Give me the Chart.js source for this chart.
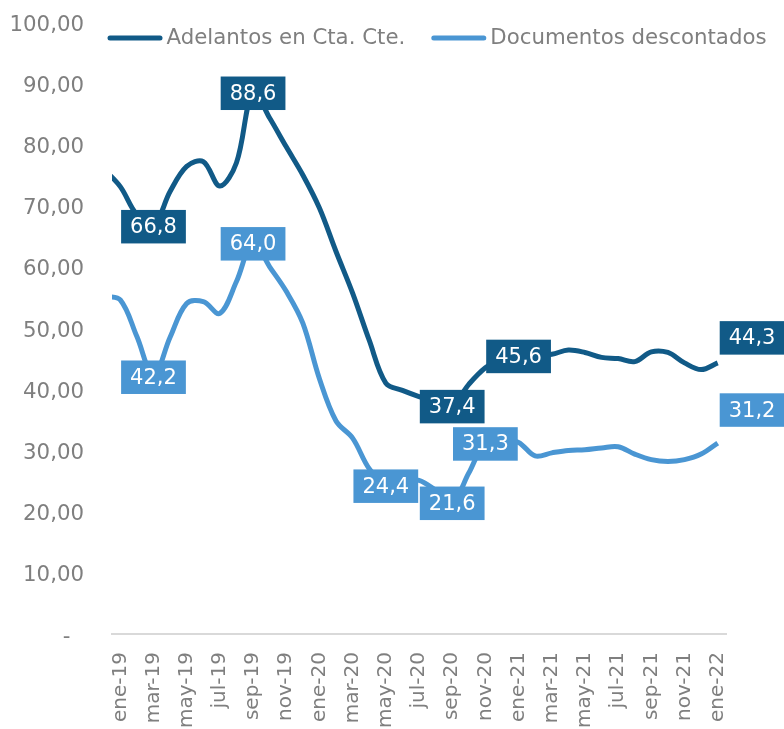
<!DOCTYPE html>
<html><head><meta charset="utf-8">
<script src="https://cdn.jsdelivr.net/npm/chart.js@4.4.0/dist/chart.umd.min.js"></script>
<style>html,body{margin:0;padding:0;background:#fff;}#wrap{width:784px;height:729px;}</style>
</head><body><div id="wrap"><canvas id="c" width="784" height="729"></canvas></div>
<script>
const months = ['dic-18','ene-19','feb-19','mar-19','abr-19','may-19','jun-19','jul-19','ago-19','sep-19','oct-19','nov-19','dic-19',
  'ene-20','feb-20','mar-20','abr-20','may-20','jun-20','jul-20','ago-20','sep-20','oct-20','nov-20','dic-20',
  'ene-21','feb-21','mar-21','abr-21','may-21','jun-21','jul-21','ago-21','sep-21','oct-21','nov-21','dic-21','ene-22'];
const tickLabels = ['ene-19','mar-19','may-19','jul-19','sep-19','nov-19','ene-20','mar-20','may-20','jul-20','sep-20','nov-20',
  'ene-21','mar-21','may-21','jul-21','sep-21','nov-21','ene-22'];
const adelantos = [76.0,73.1,68.5,66.8,72.3,76.4,77.2,73.2,77.0,88.6,84.3,79.6,75.0,69.6,62.5,55.7,48.0,41.0,39.8,38.8,38.0,37.4,40.8,43.5,45.0,45.6,45.5,45.7,46.4,46.0,45.2,45.0,44.5,46.1,46.0,44.3,43.2,44.3];
const documentos = [55.2,54.6,48.6,42.2,48.5,54.0,54.3,52.4,57.6,64.0,60.0,56.0,50.8,41.7,34.8,32.0,27.0,24.4,25.0,25.1,23.5,21.6,26.3,31.3,31.8,31.3,29.1,29.6,30.0,30.1,30.4,30.6,29.4,28.5,28.2,28.5,29.4,31.2];
const adelantosLabeled = ['mar-19','sep-19','sep-20','ene-21','ene-22'];
const documentosLabeled = ['mar-19','sep-19','may-20','sep-20','nov-20','ene-22'];
const seriesNames = ['Adelantos en Cta. Cte.','Documentos descontados'];
const colors = ['#115a87','#4a96d3'];

Chart.defaults.font.family = '"DejaVu Sans", Verdana, sans-serif';

const toPts = arr => arr.map((v,i)=>({x:i-1,y:v}));

const boxPlugin = {
  id:'boxLabels',
  afterDatasetsDraw(chart, args, opts){
    const ctx = chart.ctx;
    ctx.save();
    chart.data.datasets.forEach((ds,di)=>{
      const meta = chart.getDatasetMeta(di);
      ds.boxLabels.forEach(m=>{
        const idx = months.indexOf(m);
        const pt = meta.data[idx];
        const txt = ds.data[idx].y.toFixed(1).replace('.',',');
        ctx.font = '21px "DejaVu Sans"';
        const w = ctx.measureText(txt).width + 18, h = 33.5;
        let cx = pt.x, cy = pt.y + 1.5;
        if (idx === months.length-1){ cx = pt.x + 2 + w/2; cy = pt.y + opts.endDy[di]; }
        ctx.fillStyle = ds.borderColor;
        ctx.fillRect(cx-w/2, cy-h/2, w, h);
        ctx.fillStyle = '#ffffff';
        ctx.textAlign = 'center'; ctx.textBaseline = 'middle';
        ctx.fillText(txt, cx, cy+1);
      });
    });
    ctx.restore();
  }
};

const legendPlugin = {
  id:'customLegend',
  afterDraw(chart, args, opts){
    const ctx = chart.ctx;
    ctx.save();
    ctx.font = '21.3px "DejaVu Sans"';
    ctx.textBaseline = 'middle';
    ctx.textAlign = 'left';
    let x = opts.x;
    const y = opts.y;
    chart.data.datasets.forEach(ds=>{
      ctx.strokeStyle = ds.borderColor; ctx.lineWidth = 5; ctx.lineCap = 'round';
      ctx.beginPath(); ctx.moveTo(x+2.5, y); ctx.lineTo(x+52.5, y); ctx.stroke();
      ctx.fillStyle = '#7f7f7f';
      ctx.fillText(ds.label, x+59, y);
      x += 59 + ctx.measureText(ds.label).width + 26;
    });
    ctx.restore();
  }
};

new Chart(document.getElementById('c'), {
  type:'line',
  data:{datasets:[
    {label:seriesNames[0], data:toPts(adelantos), borderColor:colors[0], backgroundColor:colors[0], borderWidth:5, pointRadius:0, tension:0.35, boxLabels:adelantosLabeled, clip:{left:0,right:20,top:20,bottom:20}},
    {label:seriesNames[1], data:toPts(documentos), borderColor:colors[1], backgroundColor:colors[1], borderWidth:5, pointRadius:0, tension:0.35, boxLabels:documentosLabeled, clip:{left:0,right:20,top:20,bottom:20}}
  ]},
  options:{
    responsive:false, animation:false, devicePixelRatio:1,
    layout:{padding:{top:22,right:58,bottom:0,left:0}},
    plugins:{legend:{display:false}, tooltip:{enabled:false},
      boxLabels:{endDy:[-25,-33]},
      customLegend:{x:107.5,y:38}},
    scales:{
      x:{type:'linear', min:-0.5, max:36.5,
        afterBuildTicks: s=>{ s.ticks = tickLabels.map(l=>({value: months.indexOf(l)-1})); },
        afterFit: s=>{ s.height = 95; s.paddingLeft = 0; s.paddingRight = 0; },
        grid:{display:false, drawTicks:false},
        border:{display:true, color:'#d9d9d9', width:2},
        ticks:{autoSkip:false, minRotation:90, maxRotation:90, padding:18, color:'#7f7f7f', font:{size:20},
          callback:(v)=>months[v+1]}
      },
      y:{min:0, max:100,
        afterFit: s=>{ s.width = 112; s.paddingTop = 0; s.paddingBottom = 0; },
        grid:{display:false, drawTicks:false},
        border:{display:false},
        ticks:{stepSize:10, padding:28, labelOffset:3, color:'#7f7f7f', font:{size:21.3},
          callback:(v)=> v===0 ? '-\u2007' : v.toFixed(2).replace('.',',')}
      }
    }
  },
  plugins:[boxPlugin, legendPlugin]
});
</script></body></html>
